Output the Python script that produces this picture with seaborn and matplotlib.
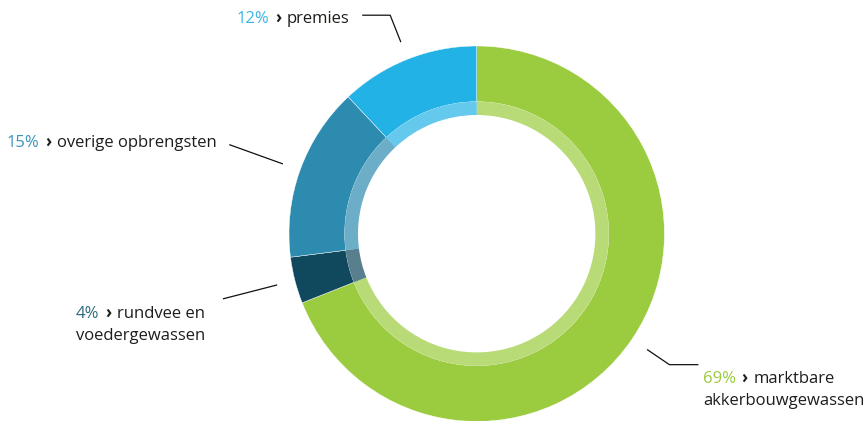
import numpy as np
import matplotlib
matplotlib.use("Agg")
import matplotlib.pyplot as plt
import seaborn as sns

# data
categories = ["marktbare akkerbouwgewassen", "rundvee en voedergewassen",
              "overige opbrengsten", "premies"]
values = [69, 4, 15, 12]
line1 = ["marktbare", "rundvee en", "overige opbrengsten", "premies"]
line2 = ["akkerbouwgewassen", "voedergewassen", "", ""]

COLORS = ["#9BCB3E", "#10495D", "#2E8BB0", "#22B2E6"]
PCT_COLORS = ["#9BCB3E", "#2F6A80", "#3A93BA", "#3BB5E6"]
TEXT = "#1d1d1b"

sns.set_theme(style="white")
plt.rcParams["font.family"] = ["Open Sans", "DejaVu Sans"]

W, H = 866, 421
fig = plt.figure(figsize=(W / 100, H / 100), dpi=100)
ax = fig.add_axes([0, 0, 1, 1])

cx, cy = 476.7, H - 233.7
R_OUT, R_BAND, R_HOLE = 187.7, 132.0, 118.7

wedges, _ = ax.pie(values, colors=COLORS, startangle=90, counterclock=False,
                   center=(cx, cy), radius=R_OUT,
                   wedgeprops=dict(width=R_OUT - R_BAND, edgecolor="white", linewidth=0.3))
ax.pie(values, colors=COLORS, startangle=90, counterclock=False,
       center=(cx, cy), radius=R_BAND,
       wedgeprops=dict(width=R_BAND - R_HOLE, alpha=0.7, edgecolor="none", linewidth=0))

# label layout: text start (px), baseline (px), leader outer radius, horizontal tail
layout = {
    0: dict(x=703, y=383.3, r2=233, tail=29),
    1: dict(x=76, y=318.3, r2=262, tail=0),
    2: dict(x=7, y=147, r2=263, tail=0),
    3: dict(x=237, y=22.7, r2=235, tail=-28),
}

FS = 12
for i, w in enumerate(wedges):
    ang = np.deg2rad((w.theta1 + w.theta2) / 2)
    p1 = (cx + 206 * np.cos(ang), cy + 206 * np.sin(ang))
    p2 = (cx + layout[i]["r2"] * np.cos(ang), cy + layout[i]["r2"] * np.sin(ang))
    xs, ys = [p1[0], p2[0]], [p1[1], p2[1]]
    if layout[i]["tail"]:
        xs.append(p2[0] + layout[i]["tail"])
        ys.append(p2[1])
    ax.plot(xs, ys, color="#111111", linewidth=0.9, solid_capstyle="butt")

    tx, ty = layout[i]["x"], H - layout[i]["y"]
    t = ax.text(tx, ty, f"{values[i]}%", color=PCT_COLORS[i], fontsize=FS, va="baseline", ha="left")
    a = ax.annotate("›", xy=(1, 0), xycoords=t, xytext=(4, 0),
                    textcoords="offset points", fontsize=FS, color=TEXT,
                    fontweight="bold", va="bottom", ha="left")
    ax.annotate(line1[i], xy=(1, 0), xycoords=a, xytext=(4, 0),
                textcoords="offset points", fontsize=FS, color=TEXT,
                va="bottom", ha="left")
    if line2[i]:
        ax.text(tx, ty - 21.7, line2[i], color=TEXT, fontsize=FS, va="baseline", ha="left")

ax.set_xlim(0, W)
ax.set_ylim(0, H)
ax.axis("off")
fig.savefig("out.png", dpi=100)
